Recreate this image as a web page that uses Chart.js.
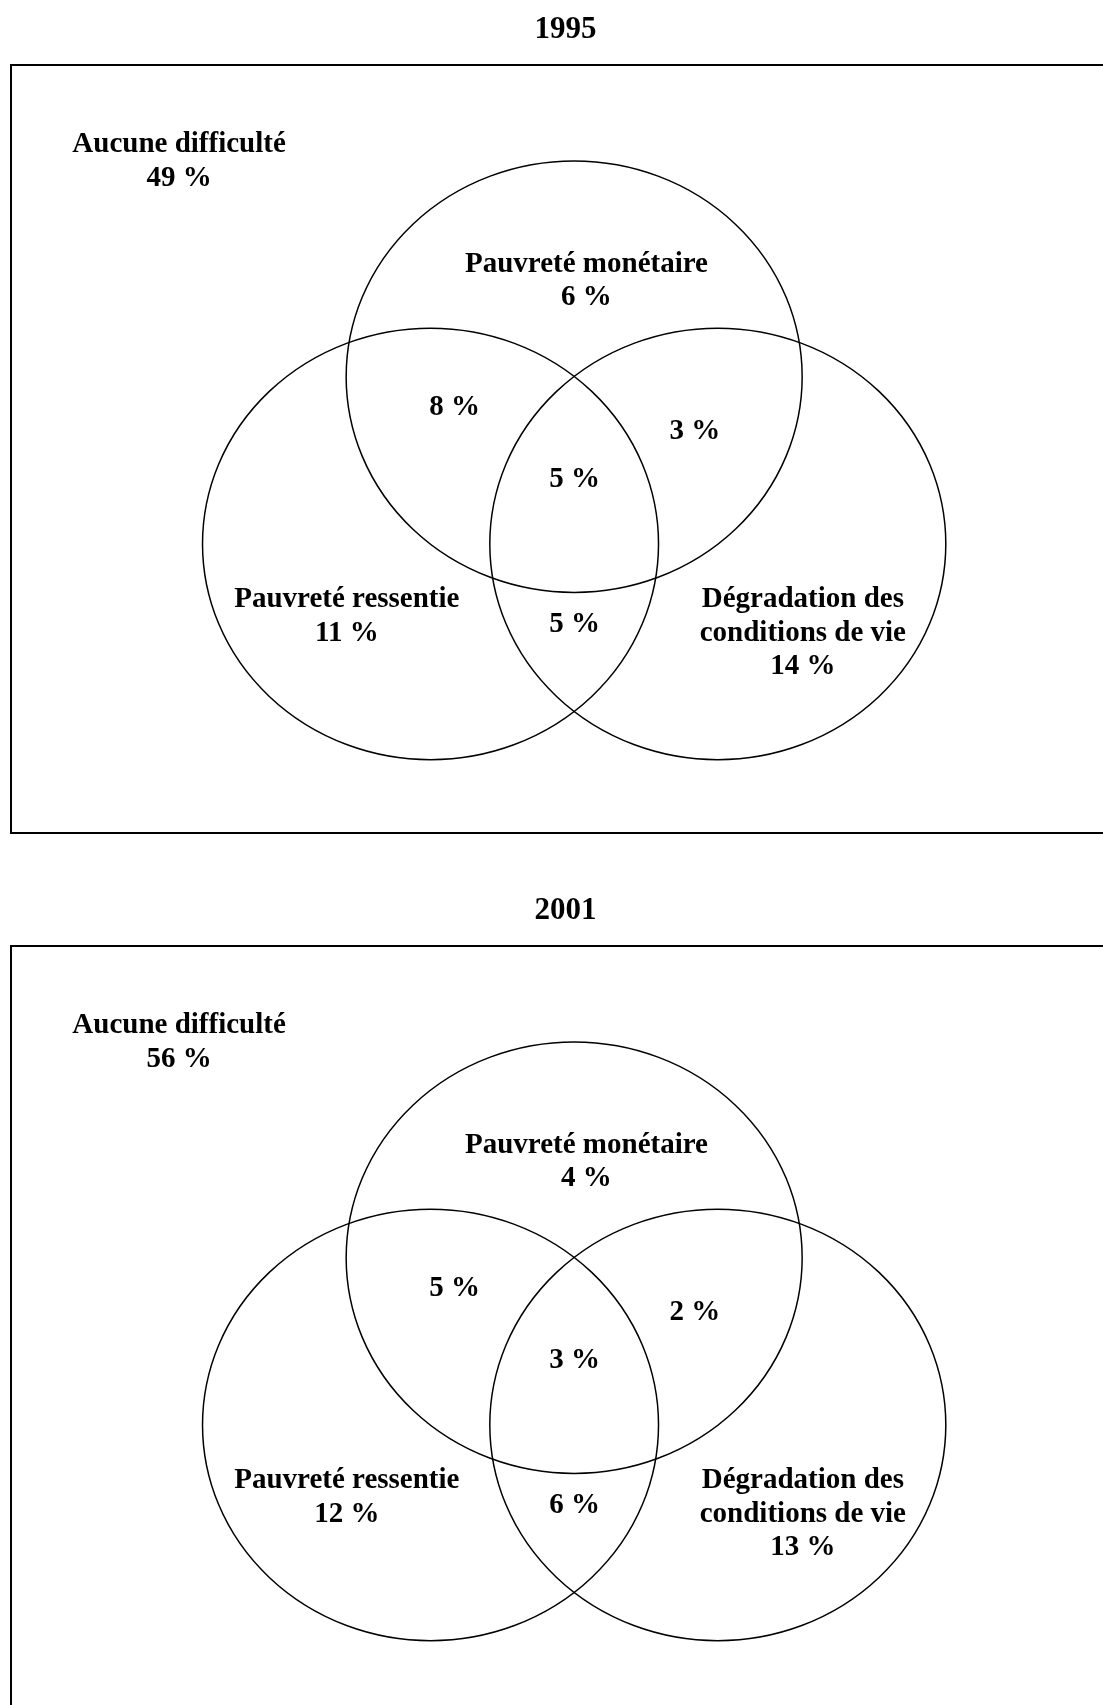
<!DOCTYPE html>
<html lang="fr">
<head>
<meta charset="utf-8">
<title>Pauvreté 1995 / 2001</title>
<script src="https://cdn.jsdelivr.net/npm/chart.js@4.4.1/dist/chart.umd.min.js"></script>
<style>
  html, body { margin: 0; padding: 0; background: #fff; overflow: hidden; }
  .panel { width: 1120px; height: 881px; }
</style>
</head>
<body>
<div class="panel"><canvas id="chart1995" width="1120" height="881"></canvas></div>
<div class="panel"><canvas id="chart2001" width="1120" height="881"></canvas></div>
<script>
const years = ["1995", "2001"];

// one entry per zone of the diagram, "" = intersection without its own name
const regionNames = [
  "Aucune difficulté",
  "Pauvreté monétaire",
  "", // monétaire + ressentie
  "", // monétaire + dégradation
  "", // les trois
  "Pauvreté ressentie",
  "", // ressentie + dégradation
  "Dégradation des\nconditions de vie",
];
const shares1995 = [49, 6, 8, 3, 5, 11, 5, 14];
const shares2001 = [56, 4, 5, 2, 3, 12, 6, 13];

// layout, in circle-radius units
const circleX = [0, -0.63, 0.63];
const circleY = [0.775, 0, 0];
const labelX = [-1.733, 0.054, -0.524, 0.529, 0.002, -0.997, 0.002, 1.003];
const labelY = [1.815, 1.262, 0.598, 0.486, 0.265, -0.294, -0.407, -0.294];

const FONT = '"Liberation Serif", "Times New Roman", serif';

const vennPlugin = {
  id: "venn",
  afterDatasetsDraw(chart) {
    const ctx = chart.ctx;
    const area = chart.chartArea;
    const xs = chart.scales.x;
    const ys = chart.scales.y;
    ctx.save();
    ctx.strokeStyle = "#000";

    // frame (right side runs off the page)
    ctx.lineWidth = 2;
    ctx.strokeRect(area.left, area.top, area.right - area.left + 10, area.bottom - area.top);

    // circles
    ctx.lineWidth = 1.5;
    const rx = xs.getPixelForValue(1) - xs.getPixelForValue(0);
    const ry = ys.getPixelForValue(0) - ys.getPixelForValue(1);
    chart.getDatasetMeta(0).data.forEach((pt) => {
      ctx.beginPath();
      ctx.ellipse(pt.x, pt.y, rx, ry, 0, 0, Math.PI * 2);
      ctx.stroke();
    });

    // zone labels
    const shares = chart.data.datasets[1].shares;
    ctx.fillStyle = "#000";
    ctx.font = "bold 29px " + FONT;
    ctx.textAlign = "center";
    ctx.textBaseline = "alphabetic";
    chart.getDatasetMeta(1).data.forEach((pt, i) => {
      const lines = regionNames[i] ? regionNames[i].split("\n") : [];
      lines.push(shares[i] + " %");
      lines.forEach((line, j) => ctx.fillText(line, pt.x, pt.y + j * 33.5));
    });
    ctx.restore();
  },
};

function makeVenn(canvasId, year, shares) {
  const ctx = document.getElementById(canvasId).getContext("2d");
  return new Chart(ctx, {
    type: "scatter",
    data: {
      datasets: [
        {
          label: "cercles",
          data: circleX.map((x, i) => ({ x, y: circleY[i] })),
          pointRadius: 0,
        },
        {
          label: year,
          data: labelX.map((x, i) => ({ x, y: labelY[i] })),
          pointRadius: 0,
          shares: shares,
        },
      ],
    },
    options: {
      responsive: false,
      animation: false,
      events: [],
      layout: { padding: { left: 11, right: 0, top: 0, bottom: 48 } },
      scales: {
        x: { type: "linear", min: -2.47, max: 2.394, display: false },
        y: { type: "linear", min: -1.34, max: 2.22, display: false },
      },
      plugins: {
        legend: { display: false },
        tooltip: { enabled: false },
        title: {
          display: true,
          text: year,
          color: "#000",
          font: { family: FONT, size: 31, weight: "bold" },
          padding: { top: 11.6, bottom: 16.2 },
        },
      },
    },
    plugins: [vennPlugin],
  });
}

makeVenn("chart1995", years[0], shares1995);
makeVenn("chart2001", years[1], shares2001);
</script>
</body>
</html>
